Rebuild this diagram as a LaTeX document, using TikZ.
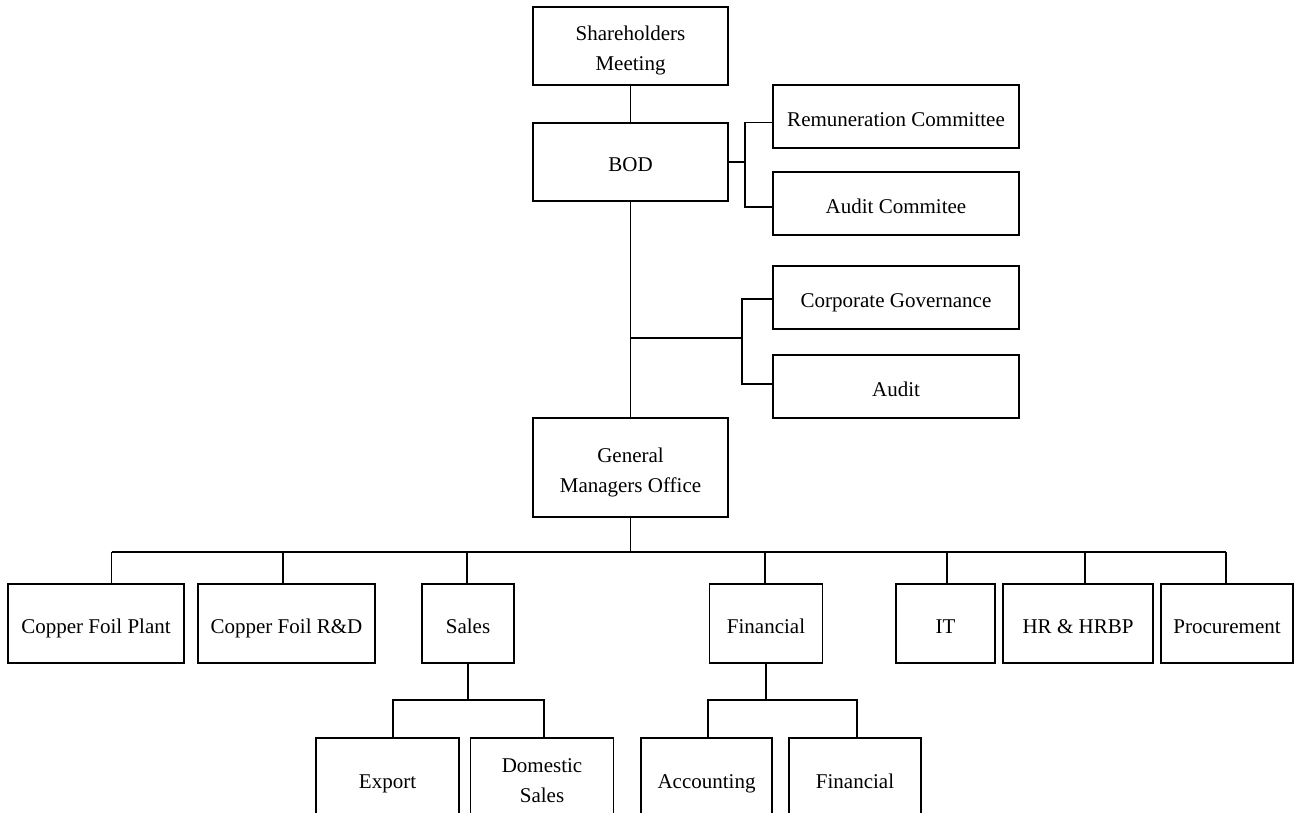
\documentclass[tikz,border=0pt]{standalone}
\usepackage{fontspec}
\setmainfont{Liberation Serif}
\begin{document}
\begin{tikzpicture}[x=1pt,y=-1pt,
  box/.style={draw, line width=1.1pt, rectangle, inner sep=0pt, align=center, font=\fontsize{21}{30}\selectfont},
  one/.style={box, text height=20pt, text depth=0pt},
  conn/.style={line width=1.1pt}]
\clip (0,0) rectangle (1295,813);
% top levels
\node[box, minimum width=195pt, minimum height=78pt] (sh) at (630.5,46) {\rule{0pt}{24pt}Shareholders\\Meeting};
\node[one, minimum width=195pt, minimum height=78pt] (bod) at (630.5,162) {BOD};
\node[one, minimum width=246pt, minimum height=63pt] (rem) at (896,116.5) {Remuneration Committee};
\node[one, minimum width=246pt, minimum height=63pt] (audc) at (896,203.5) {Audit Commitee};
\node[one, minimum width=246pt, minimum height=63pt] (cg) at (896,297.5) {Corporate Governance};
\node[one, minimum width=246pt, minimum height=63pt] (aud) at (896,386.5) {Audit};
\node[box, minimum width=195pt, minimum height=99pt] (gmo) at (630.5,467.5) {\rule{0pt}{24pt}General\\Managers Office};
% departments
\node[one, minimum width=176pt, minimum height=79pt] (cfp) at (96,623.5) {Copper Foil Plant};
\node[one, minimum width=177pt, minimum height=79pt] (cfr) at (286.5,623.5) {Copper Foil R\&D};
\node[one, minimum width=92pt, minimum height=79pt] (sales) at (468,623.5) {Sales};
\node[one, minimum width=113pt, minimum height=79pt] (fin) at (766,623.5) {Financial};
\node[one, minimum width=99pt, minimum height=79pt] (it) at (945.5,623.5) {IT};
\node[one, minimum width=150pt, minimum height=79pt] (hr) at (1078,623.5) {HR \& HRBP};
\node[one, minimum width=132pt, minimum height=79pt] (proc) at (1227,623.5) {Procurement};
% sub departments (cut by bottom edge)
\node[one, minimum width=143pt, minimum height=80pt] (exp) at (387.5,778) {Export};
\node[box, minimum width=143pt, minimum height=80pt] (dom) at (542,778) {\rule{0pt}{20pt}Domestic\\Sales};
\node[one, minimum width=131pt, minimum height=80pt] (acc) at (706.5,778) {Accounting};
\node[one, minimum width=132pt, minimum height=80pt] (fin2) at (855,778) {Financial};
% connectors
\draw[conn] (sh.south) -- (bod.north);
\coordinate (b1) at (745,162);
\draw[conn] (bod.east) -- (b1);
\draw[conn] ([yshift=-6pt]rem.west) -| (b1) |- ([yshift=-3.5pt]audc.west);
\draw[conn] (bod.south) -- (gmo.north);
\coordinate (m1) at (630.5,338);
\coordinate (b2) at (742,338);
\draw[conn] (m1) -- (b2);
\draw[conn] ([yshift=-1.5pt]cg.west) -| (b2) |- ([yshift=2.5pt]aud.west);
% GMO bus
\coordinate (g1) at (630.5,552);
\coordinate (d1) at (111.5,552);
\coordinate (d2) at (283,552);
\coordinate (d3) at (467,552);
\coordinate (d4) at (765,552);
\coordinate (d5) at (947,552);
\coordinate (d6) at (1085,552);
\coordinate (d7) at (1226,552);
\draw[conn] (gmo.south) -- (g1);
\draw[conn] (d1) -- (d7);
\draw[conn] (d1) -- (d1 |- cfp.north);
\draw[conn] (d2) -- (d2 |- cfr.north);
\draw[conn] (d3) -- (d3 |- sales.north);
\draw[conn] (d4) -- (d4 |- fin.north);
\draw[conn] (d5) -- (d5 |- it.north);
\draw[conn] (d6) -- (d6 |- hr.north);
\draw[conn] (d7) -- (d7 |- proc.north);
% Sales sub
\coordinate (sL) at (393,700);
\coordinate (sR) at (544,700);
\draw[conn] (sales.south) -- (sales.south |- sL);
\draw[conn] (sL |- exp.north) |- (sR) -- (sR |- dom.north);
% Financial sub
\coordinate (fL) at (708,700);
\coordinate (fR) at (857,700);
\draw[conn] (fin.south) -- (fin.south |- fL);
\draw[conn] (fL |- acc.north) |- (fR) -- (fR |- fin2.north);
\end{tikzpicture}
\end{document}
